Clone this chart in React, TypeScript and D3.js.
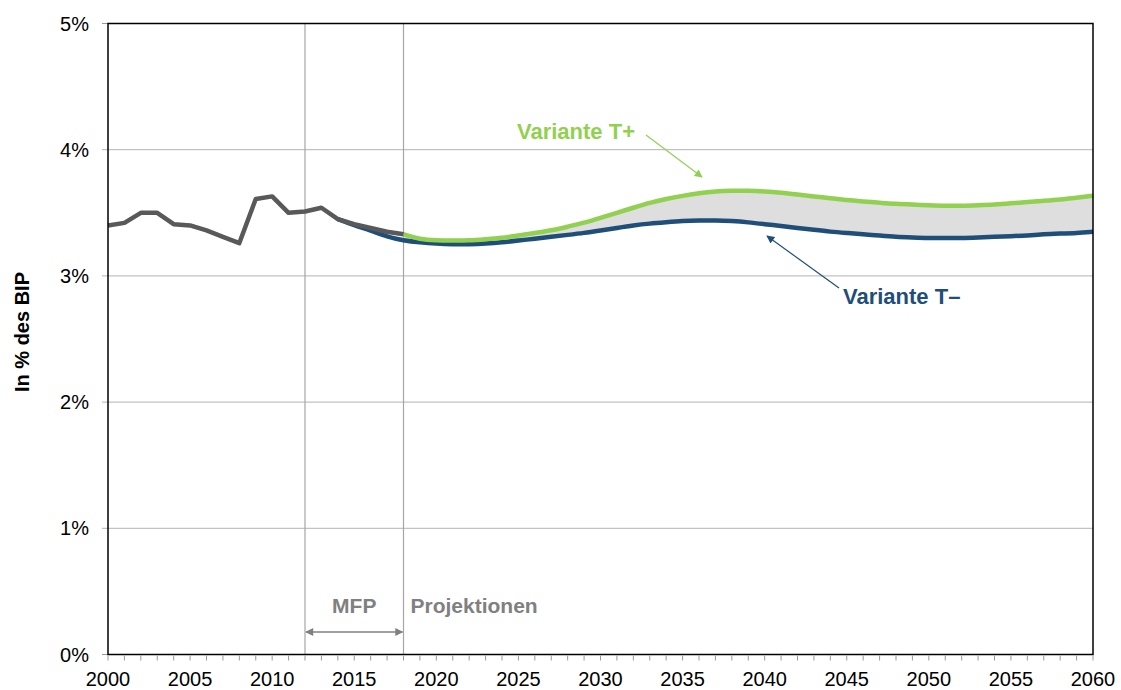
import React, { useEffect, useRef } from "react";
import * as d3 from "d3";

// historical series (gray), 2000-2018
const histYears = d3.range(2000, 2019);
const histValues = [3.40, 3.42, 3.50, 3.50, 3.41, 3.40, 3.36, 3.31, 3.26, 3.61, 3.63, 3.50, 3.51, 3.54, 3.45, 3.41, 3.38, 3.35, 3.33];

// Variante T+ (green), 2018-2060
const plusYears = d3.range(2018, 2061);
const plusValues = [
  3.33, 3.29, 3.28, 3.28, 3.28, 3.29, 3.30, 3.32, 3.34, 3.36,
  3.39, 3.42, 3.46, 3.50, 3.54, 3.58, 3.61, 3.635, 3.655, 3.67,
  3.675, 3.675, 3.67, 3.66, 3.645, 3.63, 3.615, 3.60, 3.59, 3.58,
  3.57, 3.565, 3.56, 3.555, 3.555, 3.56, 3.565, 3.575, 3.585, 3.595,
  3.605, 3.62, 3.635,
];

// Variante T- (blue), 2014-2060
const minusYears = d3.range(2014, 2061);
const minusValues = [
  3.45, 3.40, 3.36, 3.31,
  3.28, 3.265, 3.255, 3.25, 3.25, 3.255, 3.265, 3.28, 3.295, 3.31,
  3.325, 3.34, 3.36, 3.38, 3.40, 3.415, 3.425, 3.435, 3.44, 3.44,
  3.435, 3.425, 3.41, 3.395, 3.38, 3.365, 3.35, 3.34, 3.33, 3.32,
  3.31, 3.305, 3.30, 3.30, 3.30, 3.305, 3.31, 3.315, 3.32, 3.33,
  3.335, 3.34, 3.35,
];

const yTicks = [0, 1, 2, 3, 4, 5];
const xTickLabels = d3.range(2000, 2061, 5);
const periodLines = [2012, 2018];

const GREEN = "#92d050";
const BLUE = "#1f4e79";
const GRAY = "#595959";

export default function App() {
  const ref = useRef<SVGSVGElement>(null);

  useEffect(() => {
    const width = 1121;
    const height = 690;
    const m = { left: 108, top: 23.5, right: 1093, bottom: 654.5 };
    const font = "Liberation Sans, Arial, sans-serif";

    const svg = d3.select(ref.current)
      .attr("width", width)
      .attr("height", height)
      .style("font-family", font);
    svg.selectAll("*").remove();

    const x = d3.scaleLinear().domain([2000, 2060]).range([m.left, m.right]);
    const y = d3.scaleLinear().domain([0, 5]).range([m.bottom, m.top]);

    // gridlines
    svg.append("g")
      .selectAll("line")
      .data(yTicks.slice(1, -1))
      .join("line")
        .attr("x1", m.left - 6)
        .attr("x2", m.right)
        .attr("y1", d => y(d))
        .attr("y2", d => y(d))
        .attr("stroke", "#b3b3b3")
        .attr("stroke-width", 1);

    // y tick marks outside
    svg.append("g")
      .selectAll("line")
      .data([0, 5])
      .join("line")
        .attr("x1", m.left - 6)
        .attr("x2", m.left)
        .attr("y1", d => y(d))
        .attr("y2", d => y(d))
        .attr("stroke", "#999");

    // y labels
    svg.append("g")
      .selectAll("text")
      .data(yTicks)
      .join("text")
        .attr("x", 89)
        .attr("y", d => y(d) + 7)
        .attr("text-anchor", "end")
        .attr("font-size", 20)
        .attr("fill", "#000")
        .text(d => `${d}%`);

    // period separator lines
    svg.append("g")
      .selectAll("line")
      .data(periodLines)
      .join("line")
        .attr("x1", d => x(d))
        .attr("x2", d => x(d))
        .attr("y1", m.top)
        .attr("y2", m.bottom)
        .attr("stroke", "#a6a6a6")
        .attr("stroke-width", 1.2);

    // band between variants
    const bandData = plusYears.map((yr, i) => ({
      yr,
      hi: plusValues[i],
      lo: minusValues[minusYears.indexOf(yr)],
    }));
    const area = d3.area<{ yr: number; hi: number; lo: number }>()
      .x(d => x(d.yr))
      .y0(d => y(d.lo))
      .y1(d => y(d.hi))
      .curve(d3.curveBasis);
    svg.append("path")
      .datum(bandData)
      .attr("d", area)
      .attr("fill", "#dedede");

    const line = d3.line<[number, number]>()
      .x(d => x(d[0]))
      .y(d => y(d[1]))
      .curve(d3.curveBasis);

    svg.append("path")
      .datum(minusYears.map((yr, i) => [yr, minusValues[i]] as [number, number]))
      .attr("d", line)
      .attr("fill", "none")
      .attr("stroke", BLUE)
      .attr("stroke-width", 4.5);

    svg.append("path")
      .datum(plusYears.map((yr, i) => [yr, plusValues[i]] as [number, number]))
      .attr("d", line)
      .attr("fill", "none")
      .attr("stroke", GREEN)
      .attr("stroke-width", 4.5);

    const histLine = d3.line<[number, number]>()
      .x(d => x(d[0]))
      .y(d => y(d[1]));
    svg.append("path")
      .datum(histYears.map((yr, i) => [yr, histValues[i]] as [number, number]))
      .attr("d", histLine)
      .attr("fill", "none")
      .attr("stroke", GRAY)
      .attr("stroke-width", 4.5)
      .attr("stroke-linejoin", "round");

    // frame
    svg.append("rect")
      .attr("x", m.left)
      .attr("y", m.top)
      .attr("width", m.right - m.left)
      .attr("height", m.bottom - m.top)
      .attr("fill", "none")
      .attr("stroke", "#000")
      .attr("stroke-width", 1.5);

    // yearly x ticks
    svg.append("g")
      .selectAll("line")
      .data(d3.range(2000, 2061))
      .join("line")
        .attr("x1", d => x(d))
        .attr("x2", d => x(d))
        .attr("y1", m.bottom + 1)
        .attr("y2", m.bottom + 6)
        .attr("stroke", "#999");

    svg.append("g")
      .selectAll("text")
      .data(xTickLabels)
      .join("text")
        .attr("x", d => x(d))
        .attr("y", 686)
        .attr("text-anchor", "middle")
        .attr("font-size", 20)
        .attr("fill", "#000")
        .text(d => d);

    // y axis title
    svg.append("text")
      .attr("transform", "translate(29, 332) rotate(-90)")
      .attr("text-anchor", "middle")
      .attr("font-size", 20)
      .attr("font-weight", "bold")
      .text("In % des BIP");

    // MFP / Projektionen
    const defs = svg.append("defs");
    const marker = (id: string, color: string, orient: string) =>
      defs.append("marker")
        .attr("id", id)
        .attr("viewBox", "0 0 10 10")
        .attr("refX", 9)
        .attr("refY", 5)
        .attr("markerWidth", 10)
        .attr("markerHeight", 8)
        .attr("markerUnits", "userSpaceOnUse")
        .attr("orient", orient)
        .append("path")
          .attr("d", "M0,0 L10,5 L0,10 Z")
          .attr("fill", color);
    marker("arrGray", "#808080", "auto-start-reverse");
    marker("arrGreen", GREEN, "auto");
    marker("arrBlue", BLUE, "auto");

    svg.append("line")
      .attr("x1", x(2012) + 1)
      .attr("x2", x(2018) - 1)
      .attr("y1", 632)
      .attr("y2", 632)
      .attr("stroke", "#808080")
      .attr("stroke-width", 1.5)
      .attr("marker-start", "url(#arrGray)")
      .attr("marker-end", "url(#arrGray)");

    svg.append("text")
      .attr("x", (x(2012) + x(2018)) / 2)
      .attr("y", 613)
      .attr("text-anchor", "middle")
      .attr("font-size", 21)
      .attr("font-weight", "bold")
      .attr("fill", "#808080")
      .text("MFP");

    svg.append("text")
      .attr("x", x(2018) + 7)
      .attr("y", 613)
      .attr("font-size", 21)
      .attr("font-weight", "bold")
      .attr("fill", "#808080")
      .text("Projektionen");

    // variant annotations
    svg.append("text")
      .attr("x", 517)
      .attr("y", 139)
      .attr("font-size", 22)
      .attr("font-weight", "bold")
      .attr("fill", GREEN)
      .text("Variante T+");
    svg.append("line")
      .attr("x1", 646)
      .attr("y1", 135)
      .attr("x2", 702)
      .attr("y2", 177)
      .attr("stroke", GREEN)
      .attr("stroke-width", 1.2)
      .attr("marker-end", "url(#arrGreen)");

    svg.append("text")
      .attr("x", 843)
      .attr("y", 304)
      .attr("font-size", 22)
      .attr("font-weight", "bold")
      .attr("fill", BLUE)
      .text("Variante T–");
    svg.append("line")
      .attr("x1", 839)
      .attr("y1", 288)
      .attr("x2", 767)
      .attr("y2", 236)
      .attr("stroke", BLUE)
      .attr("stroke-width", 1.2)
      .attr("marker-end", "url(#arrBlue)");
  }, []);

  return (
    <div style={{ position: "absolute", left: 0, top: 0 }}>
      <svg ref={ref}></svg>
    </div>
  );
}
